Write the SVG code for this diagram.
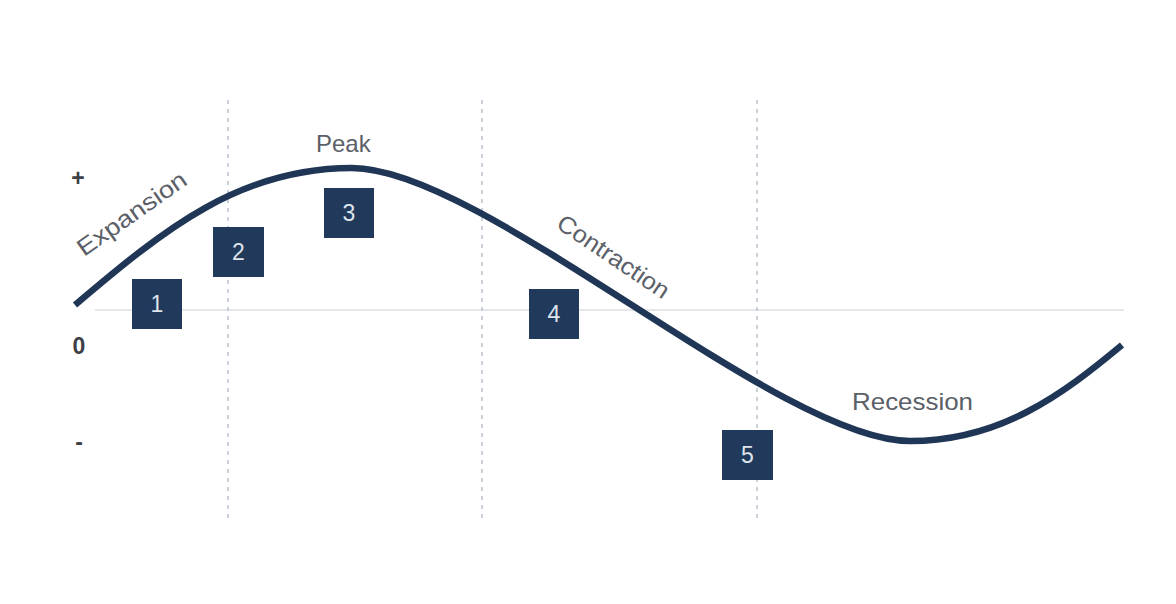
<svg xmlns="http://www.w3.org/2000/svg" width="1176" height="604" viewBox="0 0 1176 604">
<style>
.axis{stroke:#dcdfe3;stroke-width:1.5;fill:none}
.dash{stroke:#b8c3cf;stroke-width:1.5;stroke-dasharray:4 5;fill:none}
.curve{stroke:#1f3656;stroke-width:6.5;fill:none;stroke-linecap:butt}
.box{fill:#213a5b}
.num{font-family:"Liberation Sans",Arial,sans-serif;font-size:23px;fill:#dfe5ec;text-anchor:middle}
.lbl{font-family:"Liberation Sans",Arial,sans-serif;font-size:24px;fill:#5b6068}
.ax{font-family:"Liberation Sans",Arial,sans-serif;font-size:23px;fill:#3d4046;font-weight:bold;text-anchor:middle}
</style>
<rect width="1176" height="604" fill="#ffffff"/>
<g id="grid">
<line class="axis" x1="95" y1="310" x2="1124" y2="310"/>
<line class="dash" x1="228" y1="100" x2="228" y2="520"/>
<line class="dash" x1="482" y1="100" x2="482" y2="520"/>
<line class="dash" x1="757" y1="100" x2="757" y2="520"/>
</g>
<g id="axis-labels">
<text class="ax" x="78" y="186">+</text>
<text class="ax" x="79" y="354">0</text>
<text class="ax" x="79" y="450">-</text>
</g>
<g id="connectors">
<path class="curve" d="M75,305 C165,228.5 240,168 352,168 C483,168 779,441 910,441 C1000,441 1062,395 1122,345"/>
</g>
<g id="phase-labels">
<text class="lbl" transform="translate(84,257) rotate(-35)" textLength="128" lengthAdjust="spacingAndGlyphs">Expansion</text>
<text class="lbl" x="316" y="152">Peak</text>
<text class="lbl" transform="translate(555,227) rotate(34)" textLength="130" lengthAdjust="spacingAndGlyphs">Contraction</text>
<text class="lbl" x="852" y="410" textLength="121" lengthAdjust="spacingAndGlyphs">Recession</text>
</g>
<g id="node1"><rect class="box" x="132" y="279" width="50" height="50"/><text class="num" x="157" y="312">1</text></g>
<g id="node2"><rect class="box" x="213" y="227" width="51" height="50"/><text class="num" x="238.5" y="260">2</text></g>
<g id="node3"><rect class="box" x="324" y="188" width="50" height="50"/><text class="num" x="349" y="221">3</text></g>
<g id="node4"><rect class="box" x="529" y="289" width="50" height="50"/><text class="num" x="554" y="322">4</text></g>
<g id="node5"><rect class="box" x="722" y="430" width="51" height="50"/><text class="num" x="747.5" y="463">5</text></g>
</svg>
